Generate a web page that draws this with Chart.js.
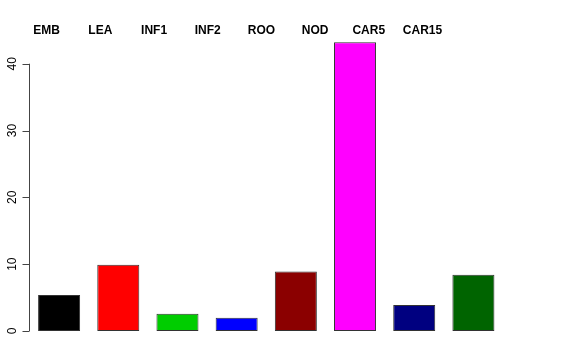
<!DOCTYPE html>
<html>
<head>
<meta charset="utf-8">
<style>
  html, body { margin: 0; padding: 0; background: #fff; }
  #wrap { width: 576px; height: 360px; }
</style>
<script src="https://cdn.jsdelivr.net/npm/chart.js@4/dist/chart.umd.min.js"></script>
</head>
<body>
<div id="wrap"><canvas id="myChart"></canvas></div>
<script>
const categories = ['EMB', 'LEA', 'INF1', 'INF2', 'ROO', 'NOD', 'CAR5', 'CAR15'];
const values = [5.4, 9.9, 2.6, 2.0, 8.9, 43.2, 3.9, 8.4];
const barColors = ['#000000', '#ff0000', '#00cd00', '#0000ff', '#8b0000', '#ff00ff', '#000080', '#006400'];
const yTicks = [0, 10, 20, 30, 40];

// R style y axis: line only from first to last tick, rotated labels
const rAxis = {
  id: 'rAxis',
  afterDraw(chart) {
    const { ctx, scales: { y }, chartArea } = chart;
    const x0 = Math.round(chartArea.left) - 0.5;
    const yTop = y.getPixelForValue(yTicks[yTicks.length - 1]);
    const yBot = y.getPixelForValue(yTicks[0]);
    ctx.save();
    ctx.strokeStyle = '#444';
    ctx.lineWidth = 1;
    ctx.beginPath();
    ctx.moveTo(x0, yTop);
    ctx.lineTo(x0, yBot);
    yTicks.forEach(t => {
      const py = Math.round(y.getPixelForValue(t)) + 0.5;
      ctx.moveTo(x0, py);
      ctx.lineTo(x0 - 7, py);
    });
    ctx.stroke();
    ctx.fillStyle = '#000';
    ctx.font = '12px "Liberation Sans", Arial, sans-serif';
    ctx.textAlign = 'center';
    ctx.textBaseline = 'middle';
    yTicks.forEach(t => {
      const py = y.getPixelForValue(t);
      ctx.save();
      ctx.translate(13, py);
      ctx.rotate(-Math.PI / 2);
      ctx.fillText(String(t), 0, 0);
      ctx.restore();
    });
    ctx.restore();
  }
};

const config = {
  type: 'bar',
  data: {
    labels: categories,
    datasets: [{
      data: values,
      backgroundColor: barColors,
      borderColor: '#333',
      borderWidth: 1,
      borderSkipped: false,
      barPercentage: 0.71,
      categoryPercentage: 1
    }]
  },
  options: {
    responsive: true,
    maintainAspectRatio: false,
    animation: false,
    layout: { padding: { left: 0, right: 73, top: 0, bottom: 29 } },
    plugins: {
      legend: { display: false },
      tooltip: { enabled: false }
    },
    scales: {
      x: { display: false },
      // names sit on their own spacing in the reference, not under the bars
      names: {
        type: 'linear',
        axis: 'x',
        position: 'top',
        offset: false,
        min: -0.32,
        max: 8.5,
        grid: { display: false, drawTicks: false, offset: false },
        border: { display: false },
        afterBuildTicks(scale) {
          scale.ticks = categories.map((c, i) => ({ value: i }));
        },
        ticks: {
          color: '#000',
          font: { family: '"Liberation Sans", Arial, sans-serif', size: 12, weight: 'bold' },
          padding: -1,
          maxRotation: 0,
          autoSkip: false,
          callback: (v) => categories[v]
        },
        afterFit(scale) { scale.height = 37; }
      },
      y: {
        min: 0,
        max: 44,
        grid: { display: false },
        border: { display: false },
        ticks: { display: false },
        afterFit(scale) { scale.width = 29.5; }
      }
    }
  },
  plugins: [rAxis]
};

const myChart = new Chart(document.getElementById('myChart'), config);
</script>
</body>
</html>
